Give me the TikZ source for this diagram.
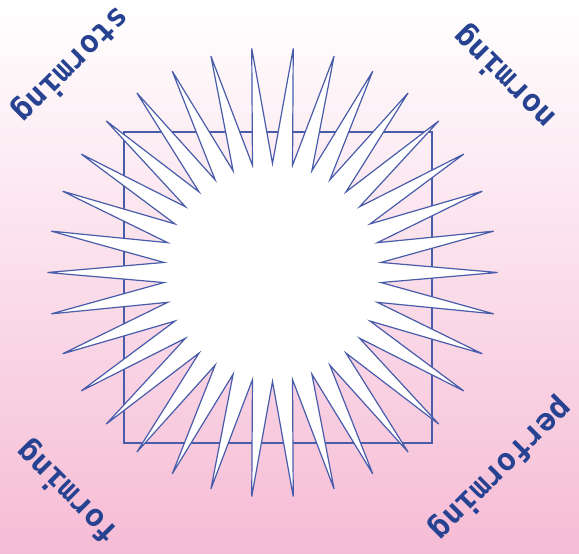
\documentclass[tikz,border=0pt]{standalone}
\usepackage{fontspec}
\newfontfamily\labelfont{DejaVu Sans Mono}
\definecolor{linec}{RGB}{72,92,170}
\definecolor{textc}{RGB}{38,66,145}
\definecolor{pinkc}{RGB}{246,188,213}
\definecolor{midc}{RGB}{252,236,243}
\begin{document}
\begin{tikzpicture}[x=1pt,y=-1pt,
  lbl/.style={text=textc, inner sep=0pt, font=\labelfont\bfseries\fontsize{31}{33}\selectfont}]
\shade[top color=white, middle color=midc, bottom color=pinkc] (0,0) rectangle (579,554);
\useasboundingbox (0,0) rectangle (579,554);
\draw[linec, line width=1.5pt] (124,132) rectangle (432,443);
\filldraw[draw=linec, fill=white, line width=1.2pt, shift={(272.5,272.5)}]
  (0:225) \foreach \k in {1,...,33} { -- ({(\k-0.5)*360/34}:109) -- ({\k*360/34}:225) }
  -- ({33.5*360/34}:109) -- cycle;
\node[lbl, rotate=225] (storming) at (71,65) {storming};
\node[lbl, rotate=135] (norming) at (505,77) {norming};
\node[lbl, rotate=135] (forming) at (68,492) {forming};
\node[lbl, rotate=225] (performing) at (501,469) {performing};
\end{tikzpicture}
\end{document}
